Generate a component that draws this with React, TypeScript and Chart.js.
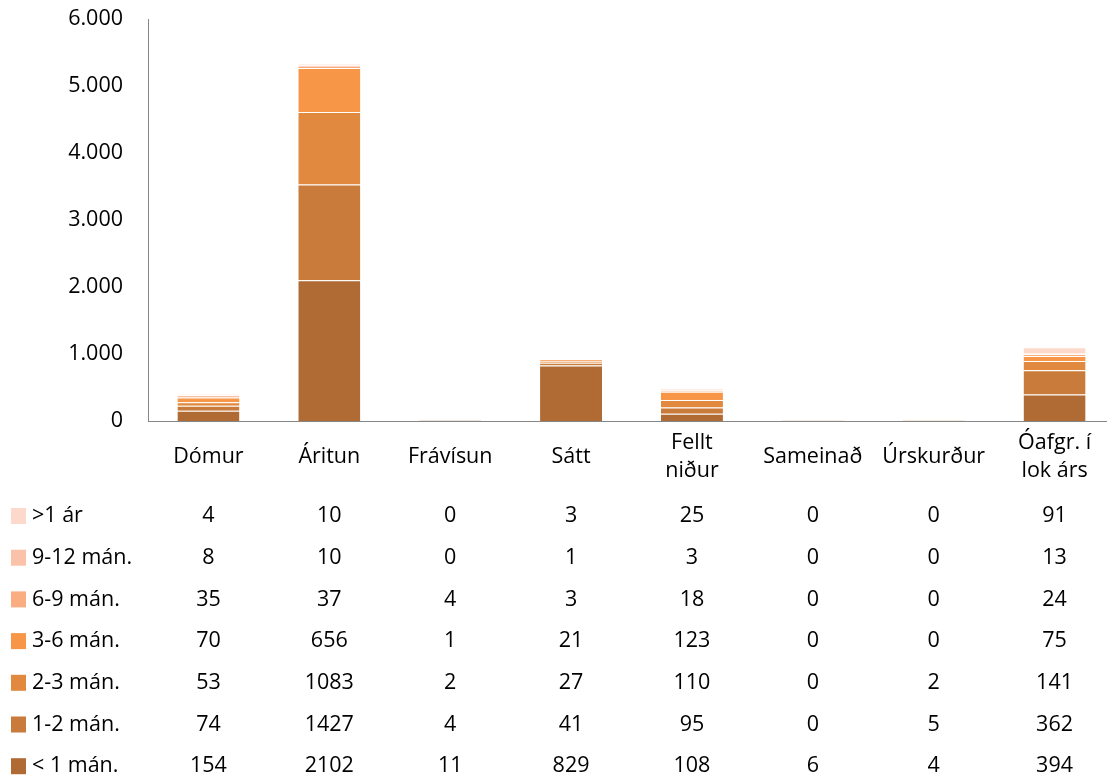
import React, { useEffect, useRef } from "react";
import { Chart, registerables } from "chart.js";

Chart.register(...registerables);

const categories: (string | string[])[] = [
  "Dómur",
  "Áritun",
  "Frávísun",
  "Sátt",
  ["Fellt", "niður"],
  "Sameinað",
  "Úrskurður",
  ["Óafgr. í", "lok árs"],
];

// bottom to top order
const seriesNames = ["< 1 mán.", "1-2 mán.", "2-3 mán.", "3-6 mán.", "6-9 mán.", "9-12 mán.", ">1 ár"];
const lt1 = [154, 2102, 11, 829, 108, 6, 4, 394];
const m1to2 = [74, 1427, 4, 41, 95, 0, 5, 362];
const m2to3 = [53, 1083, 2, 27, 110, 0, 2, 141];
const m3to6 = [70, 656, 1, 21, 123, 0, 0, 75];
const m6to9 = [35, 37, 4, 3, 18, 0, 0, 24];
const m9to12 = [8, 10, 0, 1, 3, 0, 0, 13];
const gt1 = [4, 10, 0, 3, 25, 0, 0, 91];
const seriesValues = [lt1, m1to2, m2to3, m3to6, m6to9, m9to12, gt1];
const seriesColors = ["#b06a33", "#c97b3b", "#e0893f", "#f79646", "#f9ad81", "#fac3a9", "#fcd9ca"];

const yTicks = [0, 1000, 2000, 3000, 4000, 5000, 6000];

const FONT = "'Open Sans', sans-serif";
const FONT_SIZE = 21.5;

function fmt(v: number): string {
  return String(v).replace(/\B(?=(\d{3})+(?!\d))/g, ".");
}

const tablePlugin = {
  id: "dataTable",
  afterDraw(chart: any) {
    const ctx = chart.ctx;
    const x = chart.scales.x;
    ctx.save();
    ctx.font = `${FONT_SIZE}px ${FONT}`;
    ctx.textBaseline = "middle";
    const rowTop = 516;
    const rowStep = 41.7;
    for (let r = 0; r < seriesNames.length; r++) {
      const si = seriesNames.length - 1 - r;
      const y = rowTop + r * rowStep;
      ctx.fillStyle = seriesColors[si];
      ctx.fillRect(11, y - 8, 15, 16);
      ctx.fillStyle = "#000";
      ctx.textAlign = "left";
      ctx.fillText(seriesNames[si], 32, y);
      ctx.textAlign = "center";
      const vals = seriesValues[si];
      for (let j = 0; j < vals.length; j++) {
        ctx.fillText(String(vals[j]), x.getPixelForValue(j), y);
      }
    }
    ctx.restore();
  },
};

export default function App() {
  const ref = useRef<HTMLCanvasElement | null>(null);
  useEffect(() => {
    if (!ref.current) return;
    const chart = new Chart(ref.current, {
      type: "bar",
      data: {
        labels: categories as any,
        datasets: seriesNames.map((n, i) => ({
          label: n,
          data: seriesValues[i],
          backgroundColor: seriesColors[i],
          borderColor: "rgba(255,255,255,0.35)",
          borderWidth: { top: 1, bottom: 0, left: 0, right: 0 },
          borderSkipped: false,
          barPercentage: 1,
          categoryPercentage: 0.513,
        })),
      },
      options: {
        animation: false,
        responsive: false,
        devicePixelRatio: 1,
        layout: { padding: { top: 19, right: 5, bottom: 0, left: 0 } },
        plugins: { legend: { display: false }, tooltip: { enabled: false } },
        scales: {
          x: {
            stacked: true,
            grid: { display: false, drawTicks: false },
            border: { display: true, color: "#868686", width: 1 },
            ticks: {
              color: "#000",
              font: { family: FONT, size: FONT_SIZE, lineHeight: 1.28 },
              padding: 22,
              crossAlign: "center" as any,
              maxRotation: 0,
              autoSkip: false,
            },
            afterFit(scale: any) {
              scale.height = 778 - 421;
            },
          },
          y: {
            stacked: true,
            min: 0,
            max: 6000,
            grid: { display: false, drawTicks: false },
            border: { display: true, color: "#868686", width: 1 },
            afterBuildTicks(scale: any) {
              scale.ticks = yTicks.map((v) => ({ value: v }));
            },
            ticks: {
              color: "#000",
              font: { family: FONT, size: FONT_SIZE },
              padding: 25,
              callback: (v: any) => fmt(Number(v)),
            },
            afterFit(scale: any) {
              scale.width = 148;
              scale.paddingTop = 12;
              scale.paddingBottom = 12;
            },
          },
        },
      },
      plugins: [tablePlugin],
    });
    return () => chart.destroy();
  }, []);
  return (
    <div style={{ position: "absolute", left: 0, top: 0, width: 1107, height: 778, overflow: "hidden", background: "#fff" }}>
      <canvas ref={ref} width={1120} height={778} style={{ display: "block" }} />
    </div>
  );
}
